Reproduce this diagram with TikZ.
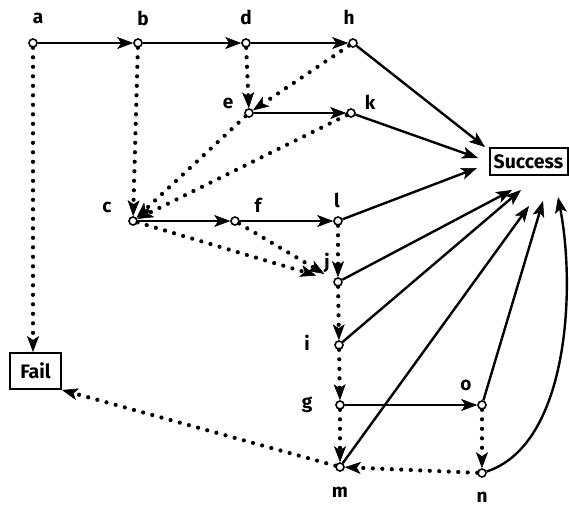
\documentclass[tikz,border=0pt]{standalone}
\usepackage{fontspec}
\setsansfont{Fira Sans}
\usetikzlibrary{arrows.meta}
\begin{document}
\begin{tikzpicture}[x=1pt,y=-1pt,
  vtx/.style={circle,draw,fill=white,line width=1.6pt,inner sep=0pt,minimum size=8pt},
  lbl/.style={font=\sffamily\bfseries\fontsize{19}{19}\selectfont,inner sep=0pt},
  term/.style={draw,line width=2pt,font=\sffamily\bfseries\fontsize{19.5}{19.5}\selectfont,inner sep=0pt},
  sol/.style={line width=2.4pt,-{Stealth[length=16pt,width=12pt,inset=4pt,line width=0.5pt]}},
  dot/.style={line width=4.2pt,line cap=round,dash pattern=on 0pt off 9.5pt,
     -{Stealth[length=16pt,width=12pt,inset=4pt,line width=0.5pt]}}]
\useasboundingbox (0,0) rectangle (569,509);
% vertices
\node[vtx] (a) at (33,43) {};
\node[vtx] (b) at (138,43) {};
\node[vtx] (d) at (246,43) {};
\node[vtx] (h) at (353,43) {};
\node[vtx] (e) at (249,113) {};
\node[vtx] (k) at (351,113) {};
\node[vtx] (c) at (133,221) {};
\node[vtx] (f) at (235,221) {};
\node[vtx] (l) at (338,221) {};
\node[vtx] (j) at (338,282) {};
\node[vtx] (i) at (339,345) {};
\node[vtx] (g) at (340,405) {};
\node[vtx] (o) at (482,405) {};
\node[vtx] (m) at (340,467) {};
\node[vtx] (n) at (482,473) {};
% terminals
\node[term,minimum width=78pt,minimum height=27pt] (S) at (528.5,161.5) {Success};
\node[term,minimum width=51pt,minimum height=36pt] (F) at (35.5,371) {Fail};
% labels
\node[lbl] (la) at (38,18) {a};
\node[lbl] (lb) at (143,18) {b};
\node[lbl] (ld) at (246,17) {d};
\node[lbl] (lh) at (349,17) {h};
\node[lbl] (le) at (228,103) {e};
\node[lbl] (lk) at (370,102) {k};
\node[lbl] (lc) at (107,207) {c};
\node[lbl] (lf) at (258,205) {f};
\node[lbl] (ll) at (337,200) {l};
\node[lbl] (lj) at (327,263) {j};
\node[lbl] (li) at (307,343) {i};
\node[lbl] (lg) at (307,405) {g};
\node[lbl] (lo) at (466,385) {o};
\node[lbl] (lm) at (340,492) {m};
\node[lbl] (ln) at (482,497) {n};
% free ends near Success
\coordinate (sh) at (485,147);
\coordinate (sk) at (478,158);
\coordinate (sl) at (477,168);
\coordinate (sj) at (512,190);
\coordinate (si) at (521,190);
\coordinate (sm) at (529,206);
\coordinate (so) at (543,201);
\coordinate (sn) at (558,197);
% solid arrows
\draw[sol] (a) -- (b);
\draw[sol] (b) -- (d);
\draw[sol] (d) -- (h);
\draw[sol] (e) -- (k);
\draw[sol] (c) -- (f);
\draw[sol] (f) -- (l);
\draw[sol] (g) -- (o);
\draw[sol] (h) -- (sh);
\draw[sol] (k) -- (sk);
\draw[sol] (l) -- (sl);
\draw[sol] (j) -- (sj);
\draw[sol] (i) -- (si);
\draw[sol] (m) -- (sm);
\draw[sol] (o) -- (so);
\draw[sol] (n) .. controls (568,445) and (576,290) .. (sn);
% dotted arrows
\draw[dot] (a) -- (F.north -| a);
\draw[dot] (b) -- (c);
\draw[dot] (d) -- (e);
\draw[dot] (h) -- (e);
\draw[dot] (e) -- (c);
\draw[dot] (k) -- (c);
\draw[dot,shorten >=18pt] (c) -- (j);
\draw[dot,shorten >=11pt] (f) -- (j);
\draw[dot] (l) -- (j);
\draw[dot] (j) -- (i);
\draw[dot] (i) -- (g);
\draw[dot] (g) -- (m);
\draw[dot] (o) -- (n);
\draw[dot] (n) -- (m);
\draw[dot] (m) -- (F.south east);
\end{tikzpicture}
\end{document}
